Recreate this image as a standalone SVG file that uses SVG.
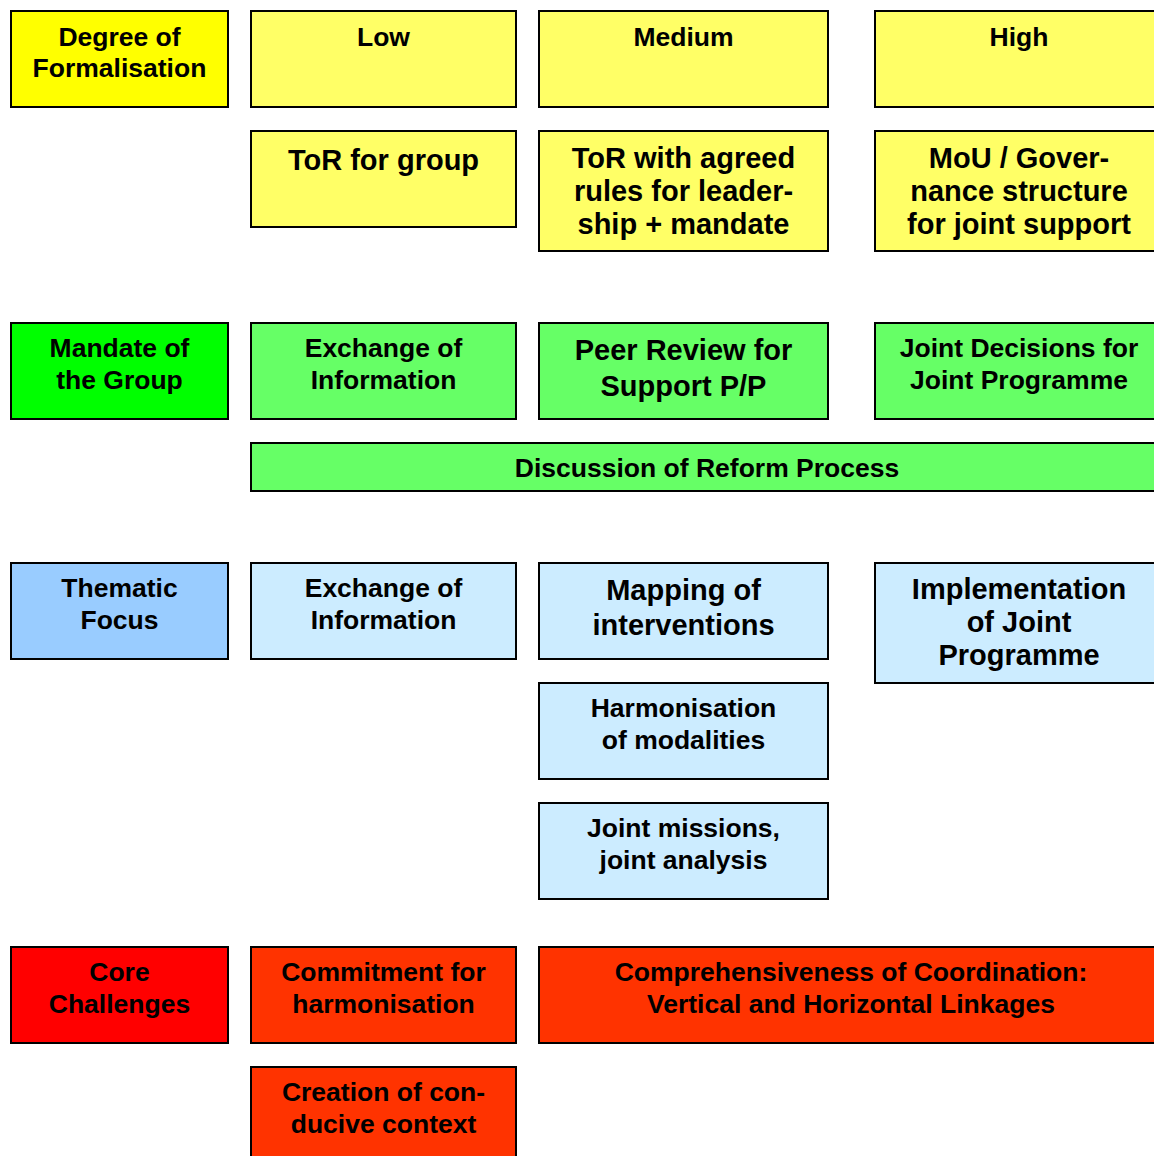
<svg xmlns="http://www.w3.org/2000/svg" width="1154" height="1156" viewBox="0 0 1154 1156">
<style>
rect{stroke:#000;stroke-width:2}
text{font-family:"Liberation Sans",Arial,sans-serif;font-weight:bold;text-anchor:middle;fill:#000}
.s{font-size:26.5px}
.l{font-size:29px}
.y0{fill:#FFFF00}.y{fill:#FFFF66}
.g0{fill:#00FF00}.g{fill:#66FF66}
.b0{fill:#99CCFF}.b{fill:#CCECFF}
.r0{fill:#FF0000}.r{fill:#FF3300}
</style>
<rect width="1154" height="1156" fill="#fff" style="stroke:none"/>
<g id="connectors"></g>
<g id="degree"><rect class="y0" x="11" y="11" width="217" height="96"/><text class="s" x="119.5" y="45.5">Degree of</text><text class="s" x="119.5" y="76.5">Formalisation</text></g>
<g id="low"><rect class="y" x="251" y="11" width="265" height="96"/><text class="s" x="383.5" y="45.5">Low</text></g>
<g id="medium"><rect class="y" x="539" y="11" width="289" height="96"/><text class="s" x="683.5" y="45.5">Medium</text></g>
<g id="high"><rect class="y" x="875" y="11" width="288" height="96"/><text class="s" x="1019" y="45.5">High</text></g>
<g id="tor-group"><rect class="y" x="251" y="131" width="265" height="96"/><text class="l" x="383.5" y="169.5">ToR for group</text></g>
<g id="tor-agreed"><rect class="y" x="539" y="131" width="289" height="120"/><text class="l" x="683.5" y="167.5">ToR with agreed</text><text class="l" x="683.5" y="200.5">rules for leader-</text><text class="l" x="683.5" y="233.5">ship + mandate</text></g>
<g id="mou"><rect class="y" x="875" y="131" width="288" height="120"/><text class="l" x="1019" y="167.5">MoU / Gover-</text><text class="l" x="1019" y="200.5">nance structure</text><text class="l" x="1019" y="233.5">for joint support</text></g>
<g id="mandate"><rect class="g0" x="11" y="323" width="217" height="96"/><text class="s" x="119.5" y="356.5">Mandate of</text><text class="s" x="119.5" y="388.5">the Group</text></g>
<g id="exchange-green"><rect class="g" x="251" y="323" width="265" height="96"/><text class="s" x="383.5" y="356.5">Exchange of</text><text class="s" x="383.5" y="388.5">Information</text></g>
<g id="peer-review"><rect class="g" x="539" y="323" width="289" height="96"/><text class="l" x="683.5" y="359.5">Peer Review for</text><text class="l" x="683.5" y="395.5">Support P/P</text></g>
<g id="joint-decisions"><rect class="g" x="875" y="323" width="288" height="96"/><text class="s" x="1019" y="356.5">Joint Decisions for</text><text class="s" x="1019" y="388.5">Joint Programme</text></g>
<g id="discussion"><rect class="g" x="251" y="443" width="912" height="48"/><text class="s" x="707" y="476.5">Discussion of Reform Process</text></g>
<g id="thematic"><rect class="b0" x="11" y="563" width="217" height="96"/><text class="s" x="119.5" y="596.5">Thematic</text><text class="s" x="119.5" y="628.5">Focus</text></g>
<g id="exchange-blue"><rect class="b" x="251" y="563" width="265" height="96"/><text class="s" x="383.5" y="596.5">Exchange of</text><text class="s" x="383.5" y="628.5">Information</text></g>
<g id="mapping"><rect class="b" x="539" y="563" width="289" height="96"/><text class="l" x="683.5" y="599.5">Mapping of</text><text class="l" x="683.5" y="635">interventions</text></g>
<g id="implementation"><rect class="b" x="875" y="563" width="288" height="120"/><text class="l" x="1019" y="599">Implementation</text><text class="l" x="1019" y="632">of Joint</text><text class="l" x="1019" y="665">Programme</text></g>
<g id="harmonisation"><rect class="b" x="539" y="683" width="289" height="96"/><text class="s" x="683.5" y="716.5">Harmonisation</text><text class="s" x="683.5" y="748.5">of modalities</text></g>
<g id="joint-missions"><rect class="b" x="539" y="803" width="289" height="96"/><text class="s" x="683.5" y="836.5">Joint missions,</text><text class="s" x="683.5" y="868.5">joint analysis</text></g>
<g id="core"><rect class="r0" x="11" y="947" width="217" height="96"/><text class="s" x="119.5" y="980.5">Core</text><text class="s" x="119.5" y="1012.5">Challenges</text></g>
<g id="commitment"><rect class="r" x="251" y="947" width="265" height="96"/><text class="s" x="383.5" y="980.5">Commitment for</text><text class="s" x="383.5" y="1012.5">harmonisation</text></g>
<g id="comprehensiveness"><rect class="r" x="539" y="947" width="624" height="96"/><text class="s" x="851" y="980.5">Comprehensiveness of Coordination:</text><text class="s" x="851" y="1012.5">Vertical and Horizontal Linkages</text></g>
<g id="creation"><rect class="r" x="251" y="1067" width="265" height="100"/><text class="s" x="383.5" y="1100.5">Creation of con-</text><text class="s" x="383.5" y="1132.5">ducive context</text></g>
</svg>
